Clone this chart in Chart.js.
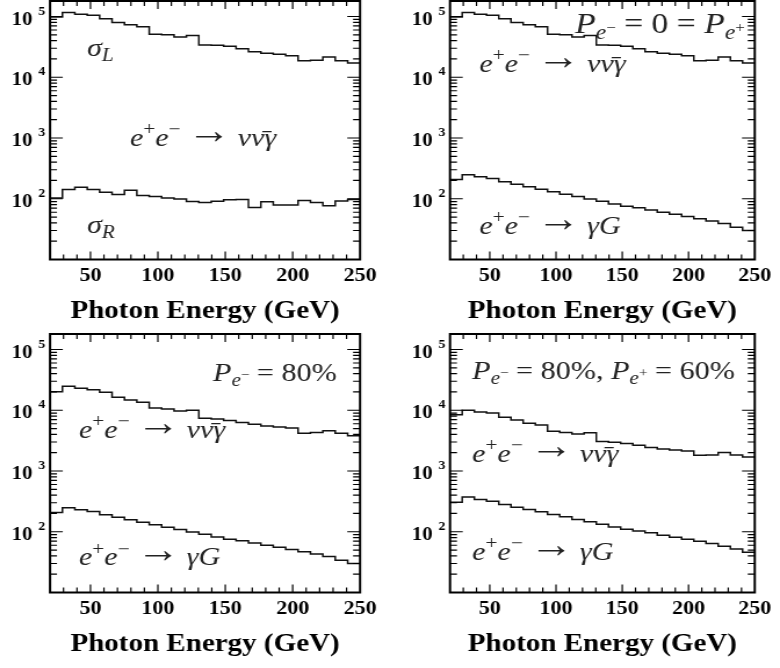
<!DOCTYPE html>
<html>
<head>
<meta charset="utf-8">
<script src="https://cdn.jsdelivr.net/npm/chart.js@4.4.0/dist/chart.umd.min.js"></script>
<style>
  html, body { margin: 0; padding: 0; background: #fff; }
  #page { position: relative; width: 780px; height: 668px; overflow: hidden; }
  /* each panel is drawn narrow and stretched sideways, like the printed figure */
  .panel { position: absolute; width: 336px; height: 334px; transform-origin: 0 0; transform: scaleX(1.1607); }
  .panel canvas { display: block; }
</style>
</head>
<body>
<div id="page">
  <div class="panel" style="left:0;top:0"><canvas id="c1" width="336" height="334"></canvas></div>
  <div class="panel" style="left:390px;top:0"><canvas id="c2" width="336" height="334"></canvas></div>
  <div class="panel" style="left:0;top:333px"><canvas id="c3" width="336" height="334"></canvas></div>
  <div class="panel" style="left:390px;top:333px"><canvas id="c4" width="336" height="334"></canvas></div>
</div>
<script>
// ---- photon energy bins (GeV) ----
const binEdges = [20, 29.2, 38.4, 47.6, 56.8, 66, 75.2, 84.4, 93.6, 102.8, 112, 121.2, 130.4,
                  139.6, 148.8, 158, 167.2, 176.4, 185.6, 194.8, 204, 213.2, 222.4, 231.6, 240.8, 250];
const xTickVals = [50, 100, 150, 200, 250];
const yLabelPowers = [2, 3, 4, 5];

// ---- e+e- -> nu nubar gamma and e+e- -> gamma G, per bin ----
const sigmaL = [9.8e4, 1.16e5, 1.09e5, 1.05e5, 9.2e4, 8.0e4, 7.3e4, 6.8e4, 5.1e4, 5.0e4, 4.6e4, 4.85e4, 3.4e4,
                3.37e4, 3.24e4, 2.96e4, 2.63e4, 2.48e4, 2.39e4, 2.26e4, 1.87e4, 1.9e4, 2.16e4, 1.87e4, 1.72e4];
const sigmaR = [103, 142, 155, 142, 128, 117, 138, 113, 109, 103, 99.5, 90, 86.5,
                91, 96, 97, 72, 89, 79, 79, 94, 86.5, 77, 92, 97];

const nunuP0 = [9.8e4, 1.16e5, 1.09e5, 1.05e5, 9.2e4, 8.0e4, 7.3e4, 6.8e4, 5.1e4, 5.0e4, 4.6e4, 4.85e4, 3.4e4,
                3.37e4, 3.24e4, 2.96e4, 2.63e4, 2.48e4, 2.39e4, 2.26e4, 1.87e4, 1.9e4, 2.16e4, 1.87e4, 1.72e4];
const gravP0 = [208, 248, 230, 216, 190, 174, 157, 144, 130, 119, 109, 99.5, 91,
                82, 75, 71, 65.5, 60, 55.5, 51, 47, 43, 39, 34, 30];

const nunuP80 = [2.02e4, 2.48e4, 2.3e4, 2.18e4, 1.98e4, 1.63e4, 1.47e4, 1.35e4, 1.09e4, 1.05e4, 9.7e3, 1.0e4, 7.4e3,
                 7.2e3, 6.8e3, 6.3e3, 5.9e3, 5.5e3, 5.3e3, 5.1e3, 4.2e3, 4.3e3, 4.6e3, 4.2e3, 3.8e3];
const gravP80 = [208, 248, 230, 216, 190, 174, 157, 144, 130, 119, 109, 99.5, 91,
                 82, 75, 71, 65.5, 60, 55.5, 51, 47, 43, 39, 34, 30];

const nunuP8060 = [8.4e3, 1.0e4, 9.4e3, 9.0e3, 7.7e3, 6.9e3, 6.1e3, 5.7e3, 4.5e3, 4.3e3, 4.05e3, 4.25e3, 3.06e3,
                   2.98e3, 2.83e3, 2.66e3, 2.43e3, 2.31e3, 2.22e3, 2.14e3, 1.82e3, 1.84e3, 2.01e3, 1.84e3, 1.7e3];
const gravP8060 = [307, 372, 340, 319, 282, 254, 233, 213, 192, 176, 159, 146, 133,
                   120, 110, 103, 96, 87.5, 81, 75, 70, 64, 57.5, 52, 46];

// ---- math labels: [text, kind] ----
const EE_NUNU = [['e', 'i'], ['+', 'sup'], ['e', 'i'], ['\u2212', 'sup'], ['\u2192', 'arr'], ['\u03bd', 'i'], ['\u03bd\u0304', 'i'], ['\u03b3', 'i']];
const EE_GRAV = [['e', 'i'], ['+', 'sup'], ['e', 'i'], ['\u2212', 'sup'], ['\u2192', 'arr'], ['\u03b3', 'i'], ['G', 'i']];
const SIGMA_L = [['\u03c3', 'i'], ['L', 'sub']];
const SIGMA_R = [['\u03c3', 'i'], ['R', 'sub']];
const POL_0 = [['P', 'i'], ['e', 'sub'], ['\u2212', 'ss'], ['=', 'rel'], ['0', 'r'], ['=', 'rel'], ['P', 'i'], ['e', 'sub'], ['+', 'ss']];
const POL_80 = [['P', 'i'], ['e', 'sub'], ['\u2212', 'ss'], ['=', 'rel'], ['80%', 'r']];
const POL_8060 = [['P', 'i'], ['e', 'sub'], ['\u2212', 'ss'], ['=', 'rel'], ['80%, ', 'r'], ['P', 'i'], ['e', 'sub'], ['+', 'ss'], ['=', 'rel'], ['60%', 'r']];

const SERIF = '"Liberation Serif", "Times New Roman", serif';

const KIND = {
  i:   { style: 'italic', scale: 1,    dy: 0 },
  r:   { style: 'normal', scale: 1,    dy: 0 },
  rel: { style: 'normal', scale: 1,    dy: 0,     pad: 0.25 },
  sup: { style: 'normal', scale: 0.7,  dy: -0.42 },
  sub: { style: 'italic', scale: 0.7,  dy: 0.2 },
  ss:  { style: 'normal', scale: 0.5,  dy: -0.05 },
  arr: { style: 'normal', scale: 1.45, dy: -0.12, pad: 0.22 }
};

// note: [energy, value, label, font size]
const panels = [
  { id: 'c1', plotLeft: 43.1, plotRight: 310.2, series: [sigmaL, sigmaR],
    notes: [[47.4, 2.24e4, SIGMA_L, 26], [79.3, 730, EE_NUNU, 26], [47.4, 27.5, SIGMA_R, 26]] },
  { id: 'c2', plotLeft: 51.7, plotRight: 320, series: [nunuP0, gravP0],
    notes: [[114.5, 5.3e4, POL_0, 29], [42.1, 1.23e4, EE_NUNU, 26], [42.1, 26.3, EE_GRAV, 26]] },
  { id: 'c3', plotLeft: 43.1, plotRight: 310.2, series: [nunuP80, gravP80],
    notes: [[140.9, 3.08e4, POL_80, 26], [41.5, 3.47e3, EE_NUNU, 26], [41.5, 27.9, EE_GRAV, 26]] },
  { id: 'c4', plotLeft: 51.7, plotRight: 320, series: [nunuP8060, gravP8060],
    notes: [[36.75, 3.31e4, POL_8060, 26], [36.75, 1430, EE_NUNU, 26], [36.75, 33.8, EE_GRAV, 26]] }
];

function histPoints(vals) {
  const pts = vals.map((v, i) => ({ x: binEdges[i], y: v }));
  pts.push({ x: binEdges[vals.length], y: vals[vals.length - 1] });
  return pts;
}

function drawMath(ctx, x, y, parts, size) {
  ctx.textAlign = 'left';
  ctx.textBaseline = 'alphabetic';
  for (const [t, k] of parts) {
    const s = KIND[k];
    const pad = (s.pad || 0) * size;
    ctx.font = `${s.style} ${size * s.scale}px ${SERIF}`;
    x += pad;
    ctx.fillText(t, x, y + s.dy * size);
    x += ctx.measureText(t).width + pad;
  }
}

// frame, inward ticks, 10^n labels and the text inside the box
function makeDecor(panel) {
  return {
    id: 'decor',
    afterDraw(chart) {
      const { ctx, chartArea: a, scales: { x, y } } = chart;
      ctx.save();
      ctx.strokeStyle = '#000';
      ctx.lineWidth = 1.2;
      ctx.beginPath();
      for (let v = 30; v < 250; v += 10) {
        const px = x.getPixelForValue(v);
        const len = v % 50 === 0 ? 8 : 5;
        ctx.moveTo(px, a.bottom); ctx.lineTo(px, a.bottom - len);
        ctx.moveTo(px, a.top); ctx.lineTo(px, a.top + len);
      }
      for (let p = 1; p <= 5; p++) {
        for (let m = 1; m <= 9; m++) {
          const v = m * Math.pow(10, p);
          if (v <= y.min || v >= y.max) continue;
          const py = y.getPixelForValue(v);
          const len = m === 1 ? 11 : 6;
          ctx.moveTo(a.left, py); ctx.lineTo(a.left + len, py);
          ctx.moveTo(a.right, py); ctx.lineTo(a.right - len, py);
        }
      }
      ctx.stroke();

      ctx.lineWidth = 2;
      ctx.strokeRect(a.left, a.top, a.right - a.left, a.bottom - a.top);

      ctx.fillStyle = '#000';
      for (const p of yLabelPowers) {
        const py = y.getPixelForValue(Math.pow(10, p));
        ctx.textBaseline = 'alphabetic';
        ctx.font = `bold 18px ${SERIF}`;
        ctx.textAlign = 'right';
        ctx.fillText('10', a.left - 15, py + 8);
        ctx.font = `bold 12px ${SERIF}`;
        ctx.textAlign = 'left';
        ctx.fillText(String(p), a.left - 10, py - 2);
      }

      ctx.fillStyle = '#222';
      for (const [gx, gy, parts, size] of panel.notes) {
        drawMath(ctx, x.getPixelForValue(gx), y.getPixelForValue(gy), parts, size);
      }
      ctx.restore();
    }
  };
}

panels.forEach(panel => {
  new Chart(document.getElementById(panel.id), {
    type: 'line',
    data: {
      datasets: panel.series.map(vals => ({
        data: histPoints(vals),
        stepped: true,
        borderColor: '#111',
        borderWidth: 1.5,
        pointRadius: 0,
        fill: false
      }))
    },
    options: {
      responsive: false,
      devicePixelRatio: 1,
      animation: false,
      events: [],
      layout: { padding: { left: 0, top: 1, right: 336 - panel.plotRight, bottom: 0 } },
      plugins: { legend: { display: false }, tooltip: { enabled: false } },
      scales: {
        x: {
          type: 'linear', min: 20, max: 250,
          afterBuildTicks: s => { s.ticks = xTickVals.map(v => ({ value: v })); },
          afterFit: s => { s.height = 74.5; },
          grid: { display: false, drawTicks: false },
          border: { display: false },
          ticks: {
            autoSkip: false, maxRotation: 0, padding: 7.5, color: '#000',
            font: { family: SERIF, size: 19, weight: 'bold', lineHeight: 1 }
          },
          title: {
            display: true, text: 'Photon Energy (GeV)', color: '#000',
            font: { family: SERIF, size: 25, weight: 'bold', lineHeight: 1 },
            padding: { top: 0, bottom: 9.5 }
          }
        },
        y: {
          type: 'logarithmic', min: 10, max: 1.8e5,
          afterFit: s => { s.width = panel.plotLeft; },
          grid: { display: false, drawTicks: false },
          border: { display: false },
          ticks: { display: false }
        }
      }
    },
    plugins: [makeDecor(panel)]
  });
});
</script>
</body>
</html>
